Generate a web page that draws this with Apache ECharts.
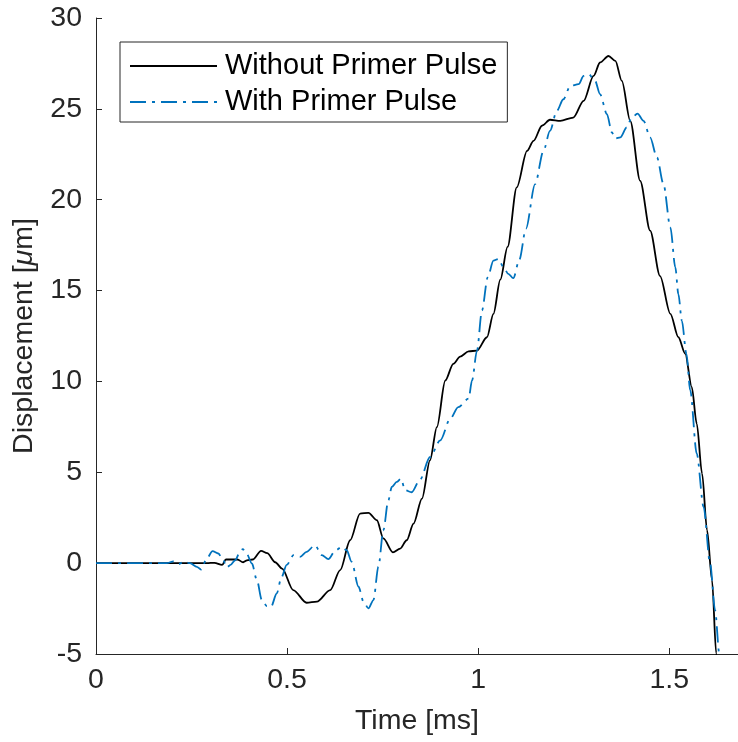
<!DOCTYPE html>
<html>
<head>
<meta charset="utf-8">
<script src="https://cdn.jsdelivr.net/npm/echarts@6/dist/echarts.min.js"></script>
<style>
  html, body { margin: 0; padding: 0; background: #fff; }
  #chart { width: 738px; height: 742px; }
</style>
</head>
<body>
<div id="chart"></div>
<script>
// Displacement traces, time in ms, displacement in micrometres
const timeWithout = [0, 0.1, 0.2, 0.29, 0.31, 0.33, 0.34, 0.37, 0.385, 0.395, 0.41, 0.432, 0.448, 0.469, 0.487,
  0.516, 0.551, 0.578, 0.613, 0.639, 0.665, 0.691, 0.713, 0.735, 0.752, 0.777, 0.796, 0.813, 0.831, 0.853,
  0.874, 0.892, 0.914, 0.935, 0.953, 0.975, 0.997, 1.023, 1.040, 1.058, 1.077, 1.101, 1.128, 1.145, 1.167,
  1.188, 1.215, 1.249, 1.276, 1.302, 1.319, 1.341, 1.359, 1.376, 1.398, 1.424, 1.450, 1.476, 1.503, 1.524,
  1.542, 1.559, 1.572, 1.586, 1.599, 1.612, 1.623, 1.628];
const dispWithout = [0, 0, 0, 0, 0.02, -0.1, 0.2, 0.2, 0.05, 0.15, 0.2, 0.68, 0.55, 0.05, -0.3,
  -1.48, -2.18, -2.12, -1.48, -0.38, 1.26, 2.73, 2.77, 2.36, 1.36, 0.59, 0.8, 1.26, 2.18, 3.55,
  5.66, 7.49, 10.05, 10.97, 11.37, 11.65, 11.7, 12.43, 13.72, 15.6, 17.4, 20.68, 22.69, 23.24, 24.07,
  24.4, 24.34, 24.52, 25.44, 26.81, 27.55, 27.91, 27.64, 26.54, 24.34, 21.04, 18.3, 15.8, 13.72, 12.43,
  11.52, 9.69, 7.68, 4.93, 1.81, -0.93, -4.96, -6.5];

const timeWith = [0, 0.1, 0.185, 0.203, 0.216, 0.23, 0.246, 0.264, 0.275, 0.290, 0.305, 0.320, 0.333, 0.342,
  0.352, 0.364, 0.377, 0.384, 0.394, 0.408, 0.421, 0.434, 0.447, 0.458, 0.473, 0.485, 0.499, 0.517, 0.534,
  0.551, 0.573, 0.591, 0.608, 0.626, 0.643, 0.656, 0.669, 0.687, 0.700, 0.713, 0.726, 0.739, 0.752, 0.765,
  0.774, 0.787, 0.798, 0.809, 0.826, 0.848, 0.874, 0.901, 0.927, 0.948, 0.975, 0.984, 0.997, 1.010, 1.025,
  1.040, 1.053, 1.066, 1.079, 1.092, 1.108, 1.125, 1.149, 1.171, 1.188, 1.206, 1.223, 1.241, 1.263, 1.276,
  1.289, 1.306, 1.319, 1.337, 1.350, 1.359, 1.372, 1.389, 1.402, 1.417, 1.433, 1.450, 1.468, 1.485, 1.503,
  1.516, 1.524, 1.533, 1.545, 1.555, 1.572, 1.590, 1.607, 1.620, 1.631, 1.636];
const dispWith = [0, 0, 0, 0.1, -0.05, 0.08, 0, -0.2, -0.35, 0.26, 0.66, 0.53, 0.16, -0.24,
  -0.1, 0.16, 0.62, 0.77, 0.53, -0.02, -0.93, -2.03, -2.36, -2.4, -1.67, -0.8, -0.1, 0.44, 0.35,
  0.62, 0.99, 0.44, 0.22, 0.68, 0.9, 0.71, 0.07, -1.3, -2.12, -2.49, -2.03, -0.2, 1.81, 3.46,
  4.19, 4.47, 4.65, 4.01, 3.9, 4.6, 5.84, 6.76, 7.95, 8.59, 9.05, 10.05, 11.7, 13.9, 15.73,
  16.65, 16.74, 16.3, 15.92, 15.68, 16.7, 18.4, 20.86, 22.69, 23.79, 24.89, 25.53, 26.26, 26.36, 26.81,
  26.91, 26.54, 25.81, 24.71, 23.7, 23.37, 23.43, 23.98, 24.52, 24.74, 24.34, 23.43, 22.32, 20.86, 18.48,
  16.28, 14.8, 13.35, 11.52, 9.51, 6.03, 3.09, -0.02, -2.58, -4.96, -6.5];

const seriesNames = ['Without Primer Pulse', 'With Primer Pulse'];
const xAxisTitle = 'Time [ms]';

const pair = (xs, ys) => xs.map((x, i) => [x, ys[i]]);

const FONT = '"Liberation Sans", Arial, Helvetica, sans-serif';
const INK = '#262626';
const AXIS_FS = 28.5;

const chart = echarts.init(document.getElementById('chart'), null, { renderer: 'canvas' });

chart.setOption({
  animation: false,
  backgroundColor: '#ffffff',
  grid: { left: 96, right: 0, top: 18, bottom: 88, containLabel: false },
  legend: {
    orient: 'vertical',
    left: 120,
    top: 42,
    padding: [8, 10, 4, 9],
    itemGap: 4,
    itemWidth: 87,
    itemHeight: 14,
    borderColor: INK,
    borderWidth: 1,
    borderRadius: 0,
    backgroundColor: '#ffffff',
    itemStyle: { opacity: 0 },
    textStyle: { fontFamily: FONT, fontSize: 29, color: '#000', lineHeight: 32, padding: [0, 0, 0, 3] },
    data: seriesNames
  },
  xAxis: {
    type: 'value',
    min: 0,
    max: 1.68,
    interval: 0.5,
    name: xAxisTitle,
    nameLocation: 'middle',
    nameGap: 53,
    nameTextStyle: { fontFamily: FONT, fontSize: AXIS_FS, color: INK },
    axisLine: { onZero: false, lineStyle: { color: INK, width: 1 } },
    axisTick: { inside: true, length: 6, lineStyle: { color: INK } },
    axisLabel: { fontFamily: FONT, fontSize: AXIS_FS, color: INK, margin: 12, showMaxLabel: false },
    splitLine: { show: false }
  },
  yAxis: {
    type: 'value',
    min: -5,
    max: 30,
    interval: 5,
    name: 'Displacement [{i|μ}m]',
    nameLocation: 'middle',
    nameGap: 57,
    nameTextStyle: {
      fontFamily: FONT, fontSize: AXIS_FS, color: INK,
      rich: { i: { fontFamily: FONT, fontSize: AXIS_FS, fontStyle: 'italic', color: INK } }
    },
    axisLine: { show: true, onZero: false, lineStyle: { color: INK, width: 1 } },
    axisTick: { show: true, inside: true, length: 6, lineStyle: { color: INK } },
    axisLabel: { fontFamily: FONT, fontSize: AXIS_FS, color: INK, margin: 14 },
    splitLine: { show: false }
  },
  series: [
    {
      name: seriesNames[0],
      type: 'line',
      data: pair(timeWithout, dispWithout),
      showSymbol: false,
      symbol: 'none',
      smooth: 0.3,
      smoothMonotone: 'x',
      clip: true,
      color: '#000000',
      lineStyle: { color: '#000000', width: 1.8 }
    },
    {
      name: seriesNames[1],
      type: 'line',
      data: pair(timeWith, dispWith),
      showSymbol: false,
      symbol: 'none',
      smooth: 0.3,
      smoothMonotone: 'x',
      clip: true,
      color: '#0072BD',
      lineStyle: { color: '#0072BD', width: 1.8, type: [16, 6, 3, 6] }
    }
  ]
});
</script>
</body>
</html>
